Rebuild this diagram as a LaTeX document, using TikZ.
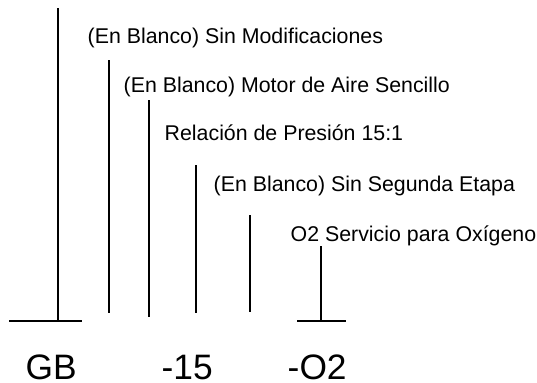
\documentclass[tikz,border=0pt]{standalone}
\usepackage{fontspec}
\setmainfont{Liberation Sans}
\usetikzlibrary{positioning}

\begin{document}
\begin{tikzpicture}[x=0.75pt, y=-0.75pt, line width=1.1pt,
  desc/.style={anchor=base west, inner sep=0pt, font=\fontsize{16}{19}\selectfont},
  code/.style={anchor=base west, inner sep=0pt, font=\fontsize{26.5}{30}\selectfont}]
\useasboundingbox (0,0) rectangle (537,383);
% Descriptions
\node[desc] (t1) at (87,43) {(En Blanco) Sin Modificaciones};
\node[desc] (t2) at (123,92) {(En Blanco) Motor de Aire Sencillo};
\node[desc] (t3) at (164,140) {Relación de Presión 15:1};
\node[desc] (t4) at (213,191) {(En Blanco) Sin Segunda Etapa};
\node[desc] (t5) at (290,241) {O2 Servicio para Oxígeno};
% Code segments
\node[code] (gb) at (25,379) {GB};
\node[code] (p15) at (161,379) {-15};
\node[code] (o2) at (287,379) {-O2};
% Leader lines
\draw (58,8) -- (58,321);
\draw (9,321) -- (82,321);
\draw (109,60) -- (109,313);
\draw (149,100) -- (149,317);
\draw (196,165) -- (196,313);
\draw (250,215) -- (250,312);
\draw (321,246) -- (321,321);
\draw (297,321) -- (346,321);
\end{tikzpicture}
\end{document}
